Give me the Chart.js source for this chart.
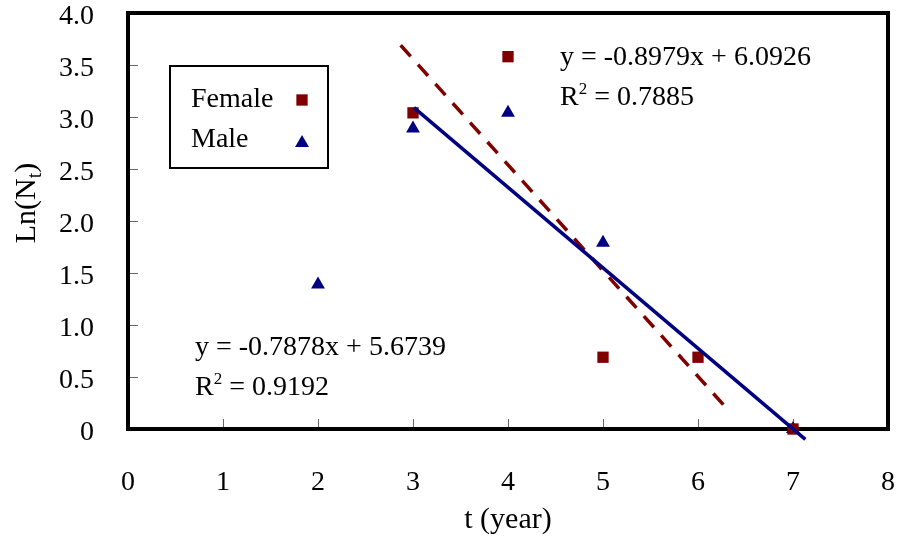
<!DOCTYPE html>
<html lang="en">
  <head>
    <meta charset="UTF-8" />
    <title>Ln(Nt) vs t</title>
    <script src="https://cdn.jsdelivr.net/npm/chart.js"></script>
    <style>
      html, body { margin: 0; padding: 0; background: #fff; }
      #wrap { width: 897px; height: 538px; position: relative; }
    </style>
  </head>
  <body>
    <div id="wrap"><canvas id="chart"></canvas></div>
    <script>
      // data
      const seriesNames = ["Female", "Male"];
      const femaleX = [3, 4, 5, 6, 7];
      const femaleY = [3.04, 3.58, 0.69, 0.69, 0];
      const maleX = [2, 3, 4, 5, 7];
      const maleY = [1.39, 2.89, 3.04, 1.79, 0];
      // trend lines as drawn in the figure (end points)
      const femaleTrendX = [2.87, 6.32];
      const femaleTrendY = [3.69, 0.18];
      const maleTrendX = [3.01, 7.13];
      const maleTrendY = [3.09, -0.10];
      const xTicks = [0, 1, 2, 3, 4, 5, 6, 7, 8];
      const yTicks = [0, 0.5, 1, 1.5, 2, 2.5, 3, 3.5, 4];
      const femaleEq = ["y = -0.8979x + 6.0926", "0.7885"];
      const maleEq = ["y = -0.7878x + 5.6739", "0.9192"];

      const RED = "#800000";
      const BLUE = "#000080";
      const FONT = "'Liberation Serif', 'Times New Roman', serif";

      const pts = (xs, ys) => xs.map((x, i) => ({ x: x, y: ys[i] }));

      function drawR2(ctx, x, y, val) {
        ctx.font = "28px " + FONT;
        ctx.fillText("R", x, y);
        let w = ctx.measureText("R").width;
        ctx.font = "17px " + FONT;
        ctx.fillText("2", x + w, y - 11);
        w += ctx.measureText("2").width;
        ctx.font = "28px " + FONT;
        ctx.fillText(" = " + val, x + w, y);
      }

      function noPad(s) {
        s.paddingTop = 0; s.paddingBottom = 0;
        s.paddingLeft = 0; s.paddingRight = 0;
      }

      const decor = {
        id: "decor",
        beforeDatasetsDraw(chart) {
          const { ctx, chartArea: a, scales } = chart;
          ctx.save();
          ctx.strokeStyle = "#666";
          ctx.lineWidth = 1;
          yTicks.forEach(v => {
            const py = Math.round(scales.y.getPixelForValue(v)) + 0.5;
            ctx.beginPath(); ctx.moveTo(a.left, py); ctx.lineTo(a.left + 10, py); ctx.stroke();
          });
          xTicks.forEach(v => {
            const px = Math.round(scales.x.getPixelForValue(v)) + 0.5;
            ctx.beginPath(); ctx.moveTo(px, a.bottom); ctx.lineTo(px, a.bottom - 10); ctx.stroke();
          });
          ctx.strokeStyle = "#000";
          ctx.lineWidth = 4;
          ctx.strokeRect(a.left, a.top, a.right - a.left, a.bottom - a.top);
          ctx.restore();
        },
        afterDatasetsDraw(chart) {
          const { ctx, chartArea: a } = chart;
          ctx.save();
          ctx.fillStyle = "#000";
          ctx.textBaseline = "alphabetic";
          ctx.textAlign = "left";

          // equations
          ctx.font = "28px " + FONT;
          ctx.fillText(femaleEq[0], 560, 65);
          drawR2(ctx, 560, 105, femaleEq[1]);
          ctx.font = "28px " + FONT;
          ctx.fillText(maleEq[0], 195, 355);
          drawR2(ctx, 195, 395, maleEq[1]);

          // legend box
          ctx.lineWidth = 2;
          ctx.strokeStyle = "#000";
          ctx.strokeRect(170, 66, 158, 102);
          ctx.font = "28px " + FONT;
          ctx.fillText(seriesNames[0], 191, 107);
          ctx.fillText(seriesNames[1], 191, 147);
          const h = Chart.helpers;
          if (h && h.drawPoint) {
            ctx.fillStyle = RED; ctx.strokeStyle = RED;
            h.drawPoint(ctx, { pointStyle: "rect", radius: 8, rotation: 0, borderWidth: 0 }, 302, 100);
            ctx.fillStyle = BLUE; ctx.strokeStyle = BLUE;
            h.drawPoint(ctx, { pointStyle: "triangle", radius: 8, rotation: 0, borderWidth: 0 }, 302, 143);
          }

          // axis titles
          ctx.fillStyle = "#000";
          ctx.textAlign = "center";
          ctx.font = "30px " + FONT;
          ctx.fillText("t (year)", (a.left + a.right) / 2, 528);

          ctx.translate(35, 203);
          ctx.rotate(-Math.PI / 2);
          ctx.textAlign = "left";
          const p1 = "Ln(N", p3 = ")";
          ctx.font = "30px " + FONT;
          const w1 = ctx.measureText(p1).width;
          ctx.font = "20px " + FONT;
          const w2 = ctx.measureText("t").width;
          ctx.font = "30px " + FONT;
          const w3 = ctx.measureText(p3).width;
          let sx = -(w1 + w2 + w3) / 2;
          ctx.fillText(p1, sx, 0);
          ctx.font = "20px " + FONT;
          ctx.fillText("t", sx + w1, 6);
          ctx.font = "30px " + FONT;
          ctx.fillText(p3, sx + w1 + w2, 0);
          ctx.restore();
        }
      };

      new Chart(document.getElementById("chart"), {
        type: "scatter",
        data: {
          datasets: [
            {
              label: "Male trend",
              type: "line",
              data: pts(maleTrendX, maleTrendY),
              borderColor: BLUE,
              borderWidth: 3.5,
              pointRadius: 0,
              fill: false,
              clip: false,
              order: 0
            },
            {
              label: "Female trend",
              type: "line",
              data: pts(femaleTrendX, femaleTrendY),
              borderColor: RED,
              borderWidth: 3.5,
              borderDash: [15, 11],
              pointRadius: 0,
              fill: false,
              clip: false,
              order: 1
            },
            {
              label: seriesNames[0],
              data: pts(femaleX, femaleY),
              pointStyle: "rect",
              pointRadius: 8,
              pointBorderWidth: 0,
              backgroundColor: RED,
              borderColor: RED,
              clip: false,
              order: 2
            },
            {
              label: seriesNames[1],
              data: pts(maleX, maleY),
              pointStyle: "triangle",
              pointRadius: 8,
              pointBorderWidth: 0,
              backgroundColor: BLUE,
              borderColor: BLUE,
              clip: false,
              order: 3
            }
          ]
        },
        options: {
          responsive: true,
          maintainAspectRatio: false,
          animation: false,
          layout: { padding: { top: 13, right: 9, left: 0, bottom: 0 } },
          plugins: { legend: { display: false }, tooltip: { enabled: false } },
          scales: {
            x: {
              type: "linear",
              min: 0, max: 8,
              afterBuildTicks: s => { s.ticks = xTicks.map(v => ({ value: v })); },
              afterFit: s => { s.height = 109; noPad(s); },
              grid: { display: false, drawTicks: false },
              border: { display: false },
              ticks: { color: "#000", font: { family: FONT, size: 28 }, padding: 37, maxRotation: 0 }
            },
            y: {
              type: "linear",
              min: 0, max: 4,
              afterBuildTicks: s => { s.ticks = yTicks.map(v => ({ value: v })); },
              afterFit: s => { s.width = 128; noPad(s); },
              grid: { display: false, drawTicks: false },
              border: { display: false },
              ticks: {
                color: "#000",
                font: { family: FONT, size: 28 },
                padding: 34,
                labelOffset: 4,
                callback: v => (v === 0 ? "0" : v.toFixed(1))
              }
            }
          }
        },
        plugins: [decor]
      });
    </script>
  </body>
</html>
